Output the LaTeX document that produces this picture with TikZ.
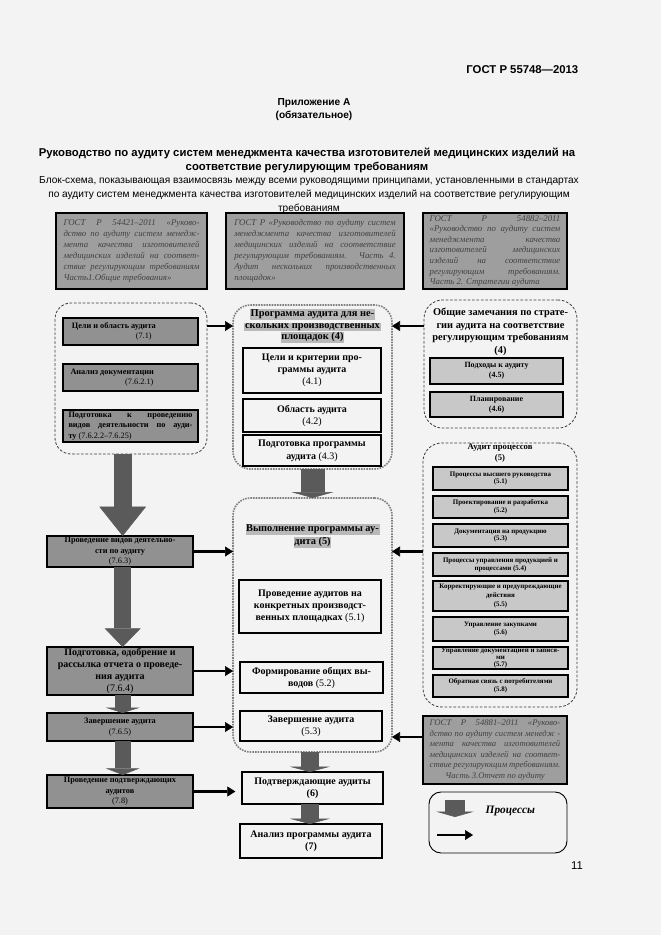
\documentclass[tikz,border=0pt]{standalone}
\usepackage{fontspec}
\setmainfont{Liberation Serif}
\newfontfamily\hsans{Liberation Sans}
\usetikzlibrary{fit,arrows.meta,calc}
\definecolor{pagebg}{RGB}{243,243,243}
\definecolor{boxgray}{RGB}{158,158,158}
\definecolor{lboxgray}{RGB}{145,145,145}
\definecolor{txtgray}{RGB}{65,65,65}
\definecolor{arrgray}{RGB}{90,90,90}
\definecolor{mottle}{RGB}{200,200,200}
\definecolor{hlgray}{RGB}{185,185,185}
\definecolor{dashgray}{RGB}{60,60,60}
\newcommand{\JL}[1]{\makebox[\linewidth][s]{#1}}
\newcommand{\CL}[1]{\makebox[\linewidth][c]{#1}}
\newcommand{\hlt}[1]{{\setlength{\fboxsep}{0.5pt}\colorbox{hlgray}{#1}}}
\newcommand{\myfs}[2]{\fontsize{#1}{#2}\selectfont}
\tikzset{
 fitbox/.style={inner sep=0pt, outer sep=0pt},
 gbox/.style={fitbox, draw=black, line width=1.1pt, fill=boxgray},
 gtxt/.style={inner sep=0pt, text=txtgray, font=\itshape\myfs{6.6}{8.2}},
 lbox/.style={fitbox, draw=black, line width=0.9pt, fill=lboxgray},
 ltxt/.style={inner sep=0pt, font=\bfseries\myfs{6.2}{7.9}, align=center},
 wbox/.style={fitbox, draw=black, line width=0.9pt},
 wtxt/.style={inner sep=0pt, font=\bfseries\myfs{7.5}{9}, align=center},
 pbox/.style={fitbox, draw=black, line width=1pt, fill=mottle},
 ptxt/.style={inner sep=0pt, font=\bfseries\myfs{5.2}{5.8}, align=center},
 grp/.style={fitbox, draw=dashgray, dash pattern=on 2pt off 1.3pt, line width=0.6pt, rounded corners=12pt},
 mgrp/.style={fitbox, draw=gray, dash pattern=on 1.2pt off 0.8pt, line width=1.2pt, rounded corners=13pt},
 thk/.style={line width=2.2pt, -{Triangle[width=7.5pt,length=6pt,line width=0.4pt]}},
 blk/.style n args={3}{line width=#1, draw=arrgray, -{Triangle[width=#2,length=#3,line width=0.4pt]}},
}
\begin{document}
\begin{tikzpicture}[x=0.75pt,y=-0.75pt]
\fill[pagebg] (0,0) rectangle (661,935);
\useasboundingbox (0,0) rectangle (661,935);

% header
\node[anchor=east, font=\hsans\bfseries\myfs{8.5}{10}] (hdr) at (583,70) {ГОСТ Р 55748—2013};
\node[align=center, font=\hsans\bfseries\myfs{7.6}{9.75}] (app) at (314,110) {Приложение А\\(обязательное)};
\node[align=center, font=\hsans\bfseries\myfs{8.5}{10.5}] (ttl) at (307,160) {Руководство по аудиту систем менеджмента качества изготовителей медицинских изделий на\\соответствие регулирующим требованиям};
\node[align=center, font=\hsans\myfs{7.6}{10.5}] (sub) at (309,195) {Блок-схема, показывающая взаимосвязь между всеми руководящими принципами, установленными в стандартах\\по аудиту систем менеджмента качества изготовителей медицинских изделий на соответствие регулирующим\\требованиям};

% top standard boxes
\node[gbox, fit={(56,213) (207,289)}] (g1) {};
\node[gtxt] (g1t) at (g1) {\parbox{102pt}{\JL{ГОСТ Р 54421–2011 «Руково-}\\\JL{дство по аудиту систем менедж-}\\\JL{мента качества изготовителей}\\\JL{медицинских изделий на соответ-}\\\JL{ствие регулирующим требованиям}\\Часть1.Общие требования»}};
\node[gbox, fit={(226,213) (404,289)}] (g2) {};
\node[gtxt] (g2t) at (g2) {\parbox{121pt}{\JL{ГОСТ Р «Руководство по аудиту систем}\\\JL{менеджмента качества изготовителей}\\\JL{медицинских изделий на соответствие}\\\JL{регулирующим требованиям. Часть 4.}\\\JL{Аудит нескольких производственных}\\площадок»}};
\node[gbox, fit={(423,213) (567,289)}] (g3) {};
\node[gtxt, font=\itshape\myfs{6.6}{7.9}] (g3t) at (g3) {\parbox{98pt}{\JL{ГОСТ Р 54882–2011}\\\JL{«Руководство по аудиту систем}\\\JL{менеджмента качества}\\\JL{изготовителей медицинских}\\\JL{изделий на соответствие}\\\JL{регулирующим требованиям.}\\Часть 2. Стратегии аудита}};

% groups
\node[grp, fit={(55,303) (207,454)}] (lgrp) {};
\node[mgrp, fit={(233,305) (392,469)}] (pgrp) {};
\node[mgrp, fit={(233,498) (392,752)}] (egrp) {};
\node[grp, rounded corners=14pt, fit={(424,300) (577,428)}] (rgrp) {};
\node[grp, rounded corners=14pt, fit={(423,443) (577,707)}] (procgrp) {};

% left column boxes
\node[lbox, fit={(63,318) (198,345)}] (bA) {};
\node[ltxt] (bAt) at (bA) {\parbox{88pt}{Цели и область аудита\\\hspace*{48pt}{\mdseries(7.1)}}};
\node[lbox, fit={(63,364) (198,391)}] (bB) {};
\node[ltxt] (bBt) at (bB) {\parbox{90pt}{Анализ документации\\\hspace*{41pt}{\mdseries(7.6.2.1)}}};
\node[lbox, fit={(63,410) (198,442)}] (bC) {};
\node[ltxt] (bCt) at (bC) {\parbox{93pt}{\JL{Подготовка к проведению}\\\JL{видов деятельности по ауди-}\\ту {\mdseries(7.6.2.2–7.6.25)}}};
\node[lbox, fit={(47,536) (193,567)}] (bD) {};
\node[ltxt] (bDt) at (bD) {Проведение видов деятельно-\\сти по аудиту\\{\mdseries(7.6.3)}};
\node[lbox, fit={(47,647) (193,695)}] (bE) {};
\node[ltxt, font=\bfseries\myfs{7.5}{8.8}] (bEt) at (bE) {Подготовка, одобрение и\\рассылка отчета о проведе-\\ния аудита\\{\mdseries(7.6.4)}};
\node[lbox, fit={(47,713) (193,741)}] (bF) {};
\node[ltxt] (bFt) at (bF) {Завершение аудита\\{\mdseries(7.6.5)}};
\node[lbox, fit={(47,775) (193,808)}] (bG) {};
\node[ltxt] (bGt) at (bG) {Проведение подтверждающих\\аудитов\\{\mdseries(7.8)}};

% program group content
\node[align=center, font=\bfseries\myfs{7.8}{8.7}] (ptitle) at (312.5,326) {\hlt{Программа аудита для не-}\\\hlt{скольких производственных}\\\hlt{площадок (4)}};
\node[wbox, fit={(243,348) (381,393)}] (b41) {};
\node[wtxt] (b41t) at (b41) {Цели и критерии про-\\граммы аудита\\{\mdseries(4.1)}};
\node[wbox, fit={(243,399) (381,432)}] (b42) {};
\node[wtxt] (b42t) at (b42) {Область аудита\\{\mdseries(4.2)}};
\node[wbox, fit={(243,435) (381,466)}] (b43) {};
\node[wtxt, font=\bfseries\myfs{7.5}{9.5}] (b43t) at (b43) {Подготовка программы\\аудита {\mdseries(4.3)}};

% execution group content
\node[align=center, font=\bfseries\myfs{7.8}{9.5}] (etitle) at (312.5,536) {\hlt{Выполнение программы ау-}\\\hlt{дита (5)}};
\node[wbox, fit={(239,580) (381,633)}] (b51) {};
\node[wtxt] (b51t) at (b51) {Проведение аудитов на\\конкретных производст-\\венных площадках {\mdseries(5.1)}};
\node[wbox, fit={(240,662) (383,693)}] (b52) {};
\node[wtxt] (b52t) at (b52) {Формирование общих вы-\\водов {\mdseries(5.2)}};
\node[wbox, fit={(240,711) (382,741)}] (b53) {};
\node[wtxt] (b53t) at (b53) {Завершение аудита\\{\mdseries(5.3)}};
\node[wbox, fit={(242,772) (383,804)}] (b6) {};
\node[wtxt] (b6t) at (b6) {Подтверждающие аудиты\\(6)};
\node[wbox, fit={(240,824) (382,858)}] (b7) {};
\node[wtxt] (b7t) at (b7) {Анализ программы аудита\\(7)};

% remarks group
\node[align=center, font=\bfseries\myfs{7.8}{9.5}] (rtitle) at (500.5,332) {Общие замечания по страте-\\гии аудита на соответствие\\регулирующим требованиям\\(4)};
\node[pbox, fit={(430,358) (563,384)}] (b45) {};
\node[ptxt, font=\bfseries\myfs{6}{7.5}] (b45t) at (b45) {Подходы к аудиту\\(4.5)};
\node[pbox, fit={(430,392) (563,417)}] (b46) {};
\node[ptxt, font=\bfseries\myfs{6}{7.5}] (b46t) at (b46) {Планирование\\(4.6)};

% process group
\node[align=center, font=\bfseries\myfs{6.5}{8.2}] (prtitle) at (500,453.5) {Аудит процессов\\(5)};
\node[pbox, fit={(433,467) (568,490)}] (p1) {};
\node[ptxt] (p1t) at (p1) {Процессы высшего руководства\\(5.1)};
\node[pbox, fit={(433,496) (568,518)}] (p2) {};
\node[ptxt] (p2t) at (p2) {Проектирование и разработка\\(5.2)};
\node[pbox, fit={(433,524) (568,547)}] (p3) {};
\node[ptxt] (p3t) at (p3) {Документация на продукцию\\(5.3)};
\node[pbox, fit={(433,553) (568,576)}] (p4) {};
\node[ptxt] (p4t) at (p4) {Процессы управления продукцией и\\процессами (5.4)};
\node[pbox, fit={(433,581) (568,611)}] (p5) {};
\node[ptxt, font=\bfseries\myfs{5.2}{6.5}] (p5t) at (p5) {Корректирующие и предупреждающие\\действия\\(5.5)};
\node[pbox, fit={(433,617) (568,641)}] (p6) {};
\node[ptxt] (p6t) at (p6) {Управление закупками\\(5.6)};
\node[pbox, fit={(433,647) (568,669)}] (p7) {};
\node[ptxt, font=\bfseries\myfs{5.2}{5.4}] (p7t) at (p7) {Управление документацией и запися-\\ми\\(5.7)};
\node[pbox, fit={(433,675) (568,697)}] (p8) {};
\node[ptxt] (p8t) at (p8) {Обратная связь с потребителями\\(5.8)};

% part 3 standard
\node[gbox, fit={(423,716) (567,784)}] (gost3) {};
\node[gtxt, font=\itshape\myfs{6.5}{7.9}] (gost3t) at (gost3) {\parbox{98pt}{\JL{ГОСТ Р 54881–2011 «Руково-}\\\JL{дство по аудиту систем менедж -}\\\JL{мента качества изготовителей}\\\JL{медицинских изделей на соответ-}\\\JL{ствие регулирующим требованиям.}\\\CL{Часть 3.Отчет по аудиту}}};

% legend
\node[fitbox, draw=black, line width=0.7pt, rounded corners=9pt, fit={(429,792) (567,853)}] (legend) {};
\coordinate (lgA) at (455,800);
\coordinate (lgB) at (455,817);
\coordinate (lgC) at (437,835);
\coordinate (lgD) at (473,835);
\node[anchor=west, font=\bfseries\itshape\myfs{8.5}{10}] (lgtxt) at (481,811) {Процессы};

% page number
\node[font=\hsans\myfs{8.5}{10}] (pn) at (577,866) {11};

% block (process) arrows
\draw[blk={13.5pt}{35pt}{22pt}] ([xshift=2pt]bD.north |- lgrp.south) -- ([xshift=2pt]bD.north);
\draw[blk={12.5pt}{27pt}{14pt}] ([xshift=2pt]bD.south) -- ([xshift=2pt]bE.north);
\draw[blk={12pt}{25.5pt}{4pt}] ([xshift=2pt]bE.south) -- ([xshift=2pt]bF.north);
\draw[blk={12pt}{25.5pt}{5pt}] ([xshift=2pt]bF.south) -- ([xshift=2pt]bG.north);
\draw[blk={18pt}{32pt}{4.5pt}] (pgrp.south) -- (egrp.north);
\draw[blk={14pt}{30pt}{4pt}] ([xshift=-2pt]egrp.south) -- ([xshift=-2pt]egrp.south |- b6.north);
\draw[blk={14pt}{30pt}{4pt}] ([xshift=-2pt]b6.south) -- ([xshift=-2pt]b6.south |- b7.north);
\draw[blk={15pt}{28pt}{4pt}] (lgA) -- (lgB);

% thick connectors
\draw[thk] (lgrp.east |- ptitle) -- (pgrp.west |- ptitle);
\draw[thk] (rgrp.west |- ptitle) -- (pgrp.east |- ptitle);
\draw[thk] (bD.east) -- (bD.east -| egrp.west);
\draw[thk] (procgrp.west |- bD.east) -- (egrp.east |- bD.east);
\draw[thk] (bE.east) -- (bE.east -| egrp.west);
\draw[thk] (bF.east) -- (bF.east -| egrp.west);
\draw[thk] ([yshift=9.75pt]gost3.west) -- ([yshift=9.75pt]gost3.west -| egrp.east);
\draw[thk, shorten >=5pt] (bG.east) -- (bG.east -| b6.west);
\draw[thk] (lgC) -- (lgD);
\end{tikzpicture}
\end{document}
